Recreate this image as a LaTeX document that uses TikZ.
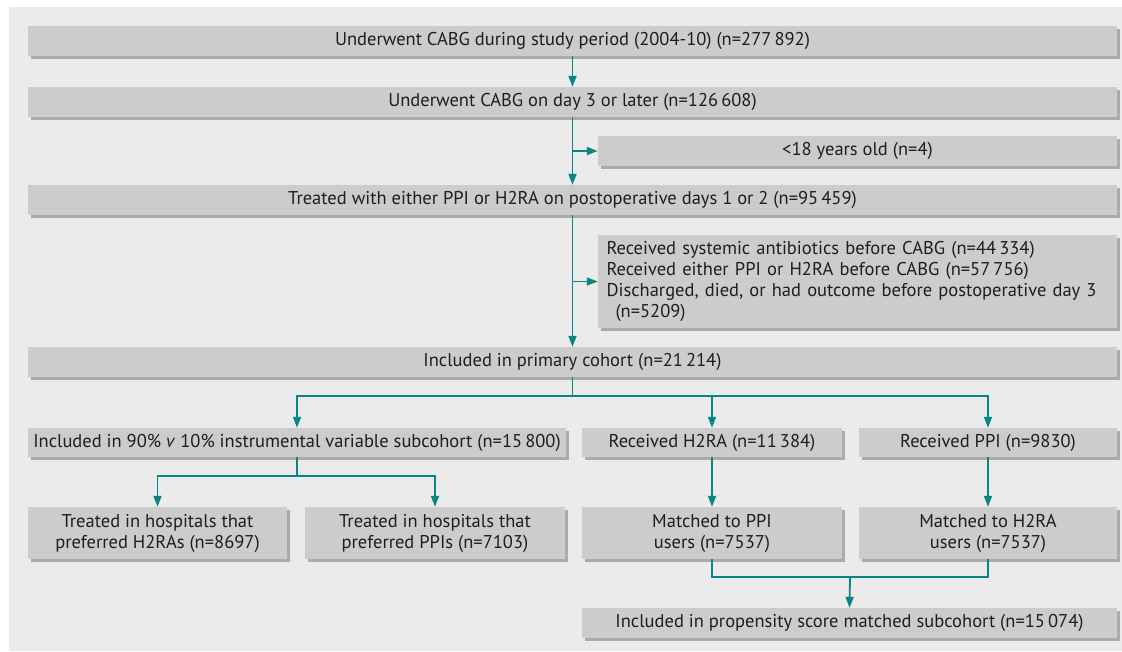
\documentclass[tikz,border=0pt]{standalone}
\usepackage{fontspec}
\setmainfont{PT Sans}
\usetikzlibrary{arrows.meta,shadows}
\definecolor{bg}{HTML}{EBEBEB}
\definecolor{boxg}{HTML}{CCCCCC}
\definecolor{shad}{HTML}{ABABAB}
\definecolor{tealc}{HTML}{0A8585}
\definecolor{txt}{HTML}{1E1E1E}
\begin{document}
\begin{tikzpicture}[x=1pt,y=-1pt,
  box/.style={fill=boxg, inner sep=0pt, text=txt, align=center,
    font=\fontsize{18.5}{21}\selectfont,
    drop shadow={shadow xshift=3pt, shadow yshift=-3pt, fill=shad, opacity=1}},
  conn/.style={draw=tealc, line width=1.8pt},
  arr/.style={conn, -{Triangle[width=8pt,length=11pt]}}]
\useasboundingbox (0,0) rectangle (1122,651);
\fill[bg] (9,7) rectangle (1122,651);

\node[box, minimum width=1089pt, minimum height=30pt] (b1) at (572.5,41) {Underwent CABG during study period (2004-10) (n=277\,892)};
\node[box, minimum width=1089pt, minimum height=30pt] (b2) at (572.5,102) {Underwent CABG on day 3 or later (n=126\,608)};
\node[box, minimum width=519pt, minimum height=30pt] (ex1) at (857.5,151) {<18 years old (n=4)};
\node[box, minimum width=1089pt, minimum height=30pt] (b3) at (572.5,200) {Treated with either PPI or H2RA on postoperative days 1 or 2 (n=95\,459)};
\node[box, minimum width=519pt, minimum height=93pt, text width=502pt, align=left] (ex2) at (857.5,281.5) {Received systemic antibiotics before CABG (n=44\,334)\\Received either PPI or H2RA before CABG (n=57\,756)\\Discharged, died, or had outcome before postoperative day 3\\\hspace*{9pt}(n=5209)};
\node[box, minimum width=1089pt, minimum height=30pt] (b4) at (572.5,362) {Included in primary cohort (n=21\,214)};
\node[box, minimum width=538pt, minimum height=29pt] (iv) at (297,442.5) {Included in 90\% \textit{v} 10\% instrumental variable subcohort (n=15\,800)};
\node[box, minimum width=260pt, minimum height=29pt] (h2) at (712,442.5) {Received H2RA (n=11\,384)};
\node[box, minimum width=258pt, minimum height=29pt] (ppi) at (988,442.5) {Received PPI (n=9830)};
\node[box, minimum width=259pt, minimum height=52pt] (t1) at (157.5,533) {Treated in hospitals that\\preferred H2RAs (n=8697)};
\node[box, minimum width=260pt, minimum height=52pt] (t2) at (435,533) {Treated in hospitals that\\preferred PPIs (n=7103)};
\node[box, minimum width=260pt, minimum height=52pt] (m1) at (712,533) {Matched to PPI\\users (n=7537)};
\node[box, minimum width=258pt, minimum height=52pt] (m2) at (988,533) {Matched to H2RA\\users (n=7537)};
\node[box, minimum width=535pt, minimum height=30pt] (ps) at (849.5,623) {Included in propensity score matched subcohort (n=15\,074)};

\coordinate (j1) at (572.5,396);
\coordinate (j2) at (297,476);
\coordinate (j3) at (850,577);

\draw[arr] (b1.south) -- (b2.north);
\draw[arr] (b2.south) -- (b3.north);
\draw[arr] (b2.south |- ex1.west) -- (ex1.west);
\draw[arr] (b3.south) -- (b4.north);
\draw[arr] (b3.south |- ex2.west) -- (ex2.west);
\draw[conn] (b4.south) -- (j1);
\draw[arr] (j1) -| (iv.north);
\draw[arr] (j1) -| (h2.north);
\draw[arr] (j1) -| (ppi.north);
\draw[conn] (iv.south) -- (j2);
\draw[arr] (j2) -| (t1.north);
\draw[arr] (j2) -| (t2.north);
\draw[arr] (h2.south) -- (m1.north);
\draw[arr] (ppi.south) -- (m2.north);
\draw[conn] (m1.south) |- (j3);
\draw[conn] (m2.south) |- (j3);
\draw[arr] (j3) -- (ps.north);
\end{tikzpicture}
\end{document}
